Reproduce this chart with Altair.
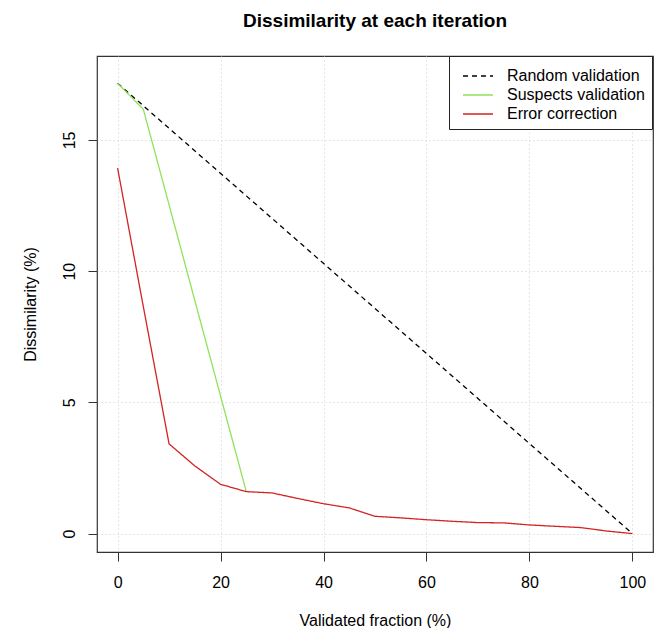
import altair as alt
import pandas as pd

# Values
series_names = ["Random validation", "Suspects validation", "Error correction"]
series_colors = ["#000000", "#8fe35a", "#d42323"]

random_x = [0, 100]
random_y = [17.16, 0.0]

suspects_x = [0, 5, 25]
suspects_y = [17.16, 16.17, 1.6]

error_x = [0, 5, 10, 15, 20, 25, 30, 35, 40, 45, 50, 55, 60, 65, 70, 75, 80, 85, 90, 95, 100]
error_y = [13.93, 8.65, 3.42, 2.58, 1.88, 1.60, 1.55, 1.34, 1.14, 0.98, 0.66, 0.60, 0.53,
           0.47, 0.42, 0.41, 0.33, 0.28, 0.23, 0.10, 0.0]

x_ticks = [0, 20, 40, 60, 80, 100]
y_ticks = [0, 5, 10, 15]

rows = []
for name, xs, ys in zip(series_names,
                        [random_x, suspects_x, error_x],
                        [random_y, suspects_y, error_y]):
    for i, (xv, yv) in enumerate(zip(xs, ys)):
        rows.append({"series": name, "x": xv, "y": yv, "i": i})
df = pd.DataFrame(rows)

FONT = "Liberation Sans"

legend = alt.Legend(
    title=" ",
    titleFontSize=2,
    titlePadding=3,
    orient="none",
    legendX=352,
    legendY=0,
    fillColor="white",
    strokeColor="#222222",
    padding=7,
    cornerRadius=0,
    symbolType="M-3,0L3,0",
    symbolSize=100,
    symbolStrokeWidth=1.3,
    symbolOffset=14,
    labelOffset=21,
    labelFont=FONT,
    labelFontSize=16,
    labelColor="black",
    rowPadding=3,
)

chart = (
    alt.Chart(df)
    .mark_line(strokeWidth=1.3)
    .encode(
        x=alt.X("x:Q",
                scale=alt.Scale(domain=[-4, 104], nice=False, zero=False),
                axis=alt.Axis(values=x_ticks, title="Validated fraction (%)",
                              titleY=68, titleBaseline="middle",
                              labelPadding=13)),
        y=alt.Y("y:Q",
                scale=alt.Scale(domain=[-0.7, 18.2], nice=False, zero=False),
                axis=alt.Axis(values=y_ticks, title="Dissimilarity (%)",
                              labelAngle=270, labelAlign="center",
                              labelBaseline="bottom", labelPadding=11,
                              titleAngle=270, titleX=-67, titleY=248,
                              titleAlign="center", titleBaseline="middle")),
        color=alt.Color("series:N",
                        scale=alt.Scale(domain=series_names, range=series_colors),
                        legend=legend),
        strokeDash=alt.StrokeDash("series:N",
                                  scale=alt.Scale(domain=series_names,
                                                  range=[[5, 4], [1, 0], [1, 0]]),
                                  legend=legend),
        order="i:Q",
        detail="series:N",
    )
    .properties(
        width=556,
        height=496,
        background="white",
        autosize=alt.AutoSizeParams(type="none"),
        padding={"left": 89, "top": 48, "right": 2, "bottom": 76},
        title=alt.Title("Dissimilarity at each iteration", font=FONT, fontSize=19,
                        fontWeight="bold", anchor="middle", baseline="alphabetic",
                        offset=10, color="black"),
    )
    .configure_view(stroke="#333333", strokeWidth=1.2)
    .configure_axis(
        domain=False,
        grid=True,
        gridColor="#cfcfcf",
        gridDash=[1, 3],
        gridWidth=1,
        tickColor="#333333",
        tickSize=9,
        tickWidth=1,
        labelFont=FONT,
        labelFontSize=16,
        labelColor="black",
        titleFont=FONT,
        titleFontSize=16,
        titleFontWeight="normal",
        titleColor="black",
    )
)

chart.save("out.html", embed_options={"renderer": "svg", "actions": False})
